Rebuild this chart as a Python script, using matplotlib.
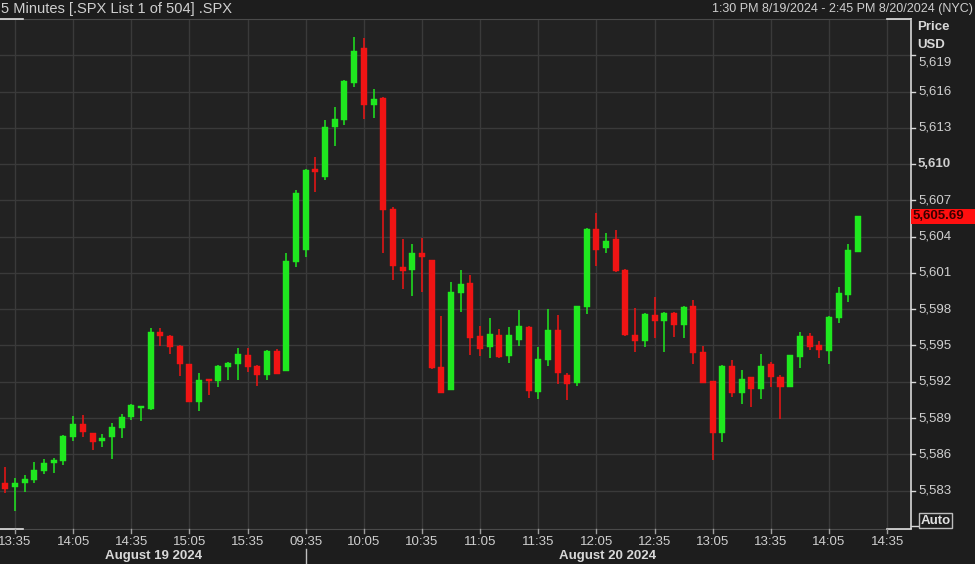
import matplotlib
matplotlib.use("Agg")
import matplotlib.pyplot as plt
from matplotlib.patches import Rectangle
from matplotlib.lines import Line2D

# ---------------- data ----------------
opens = [
    5583.65, 5583.27, 5583.60, 5583.87, 5584.64, 5585.25, 5585.45, 5587.41, 5588.51, 5587.74,
    5587.10, 5587.41, 5588.20, 5589.06, 5589.83, 5589.75, 5596.14, 5595.81, 5594.98, 5593.44,
    5590.35, 5592.20, 5592.06, 5593.24, 5593.44, 5594.21, 5593.33, 5592.56, 5594.54, 5592.91,
    5601.93, 5602.90, 5609.62, 5608.96, 5613.05, 5613.65, 5616.68, 5619.58, 5614.89, 5615.49,
    5606.29, 5601.52, 5601.24, 5602.62, 5602.07, 5593.24, 5591.32, 5599.32, 5600.14, 5595.78,
    5594.90, 5595.87, 5594.13, 5595.45, 5596.55, 5591.18, 5593.80, 5596.28, 5592.56, 5591.92,
    5598.21, 5604.63, 5603.10, 5603.78, 5601.24, 5595.87, 5595.40, 5597.52, 5597.05, 5597.71,
    5596.69, 5598.27, 5594.44, 5592.06, 5587.79, 5593.30, 5591.09, 5592.37, 5591.40, 5593.47,
    5592.37, 5591.59, 5594.07, 5595.81, 5595.04, 5594.57, 5597.25, 5599.17, 5602.76]
closes = [
    5583.13, 5583.65, 5583.96, 5584.70, 5585.30, 5585.53, 5587.51, 5588.51, 5587.82, 5587.04,
    5587.37, 5588.28, 5589.06, 5590.08, 5589.94, 5596.14, 5595.81, 5594.90, 5593.44, 5590.35,
    5592.14, 5592.06, 5593.33, 5593.58, 5594.27, 5593.24, 5592.56, 5594.54, 5592.64, 5602.01,
    5607.61, 5609.51, 5609.35, 5613.05, 5613.73, 5616.87, 5619.38, 5614.89, 5615.39, 5606.21,
    5601.61, 5601.16, 5602.62, 5602.34, 5593.11, 5591.09, 5599.45, 5600.06, 5595.64, 5594.71,
    5595.95, 5594.02, 5595.87, 5596.64, 5591.26, 5593.88, 5596.28, 5592.70, 5591.81, 5598.29,
    5604.63, 5602.90, 5603.67, 5601.14, 5595.87, 5595.40, 5597.60, 5597.05, 5597.71, 5596.69,
    5598.21, 5594.35, 5591.92, 5587.79, 5593.30, 5591.04, 5592.23, 5591.40, 5593.33, 5592.37,
    5591.59, 5594.21, 5595.81, 5594.85, 5594.63, 5597.38, 5599.37, 5602.90, 5605.69]
highs = [
    5584.97, 5584.01, 5584.29, 5585.39, 5585.61, 5585.72, 5587.60, 5589.17, 5589.25, 5587.80,
    5587.68, 5588.56, 5589.33, 5590.16, 5589.99, 5596.42, 5596.47, 5595.85, 5595.00, 5593.46,
    5592.70, 5592.22, 5593.36, 5593.66, 5594.82, 5594.82, 5593.36, 5594.60, 5594.71, 5602.65,
    5607.86, 5609.60, 5610.59, 5613.65, 5614.72, 5616.96, 5620.54, 5620.41, 5616.19, 5615.55,
    5606.48, 5603.78, 5603.37, 5603.89, 5602.10, 5597.44, 5600.27, 5601.24, 5600.83, 5596.64,
    5597.25, 5596.34, 5596.55, 5597.93, 5596.60, 5594.90, 5598.02, 5597.52, 5592.75, 5598.30,
    5604.70, 5605.98, 5604.28, 5604.55, 5601.30, 5598.07, 5597.65, 5598.98, 5597.75, 5597.75,
    5598.25, 5598.76, 5594.96, 5592.10, 5593.35, 5593.80, 5592.97, 5592.40, 5594.30, 5593.66,
    5592.56, 5594.25, 5596.14, 5596.06, 5595.40, 5597.45, 5599.86, 5603.39, 5605.72]
lows = [
    5582.82, 5581.33, 5582.91, 5583.60, 5584.37, 5584.48, 5585.11, 5587.10, 5587.41, 5586.35,
    5586.63, 5585.61, 5587.32, 5588.84, 5588.78, 5589.70, 5594.96, 5594.30, 5592.48, 5590.30,
    5589.61, 5590.90, 5591.59, 5592.14, 5592.14, 5592.78, 5591.65, 5592.14, 5592.60, 5592.85,
    5601.52, 5602.34, 5607.72, 5608.69, 5611.50, 5613.24, 5616.40, 5613.73, 5613.84, 5602.65,
    5600.42, 5599.65, 5599.09, 5599.45, 5593.05, 5591.05, 5591.30, 5597.74, 5594.21, 5594.13,
    5593.94, 5594.00, 5593.53, 5594.98, 5590.63, 5590.57, 5593.33, 5591.79, 5590.49, 5591.65,
    5597.60, 5601.61, 5602.62, 5601.10, 5595.80, 5594.44, 5594.85, 5595.59, 5594.49, 5595.68,
    5595.59, 5593.47, 5591.90, 5585.53, 5586.99, 5590.71, 5590.16, 5589.89, 5590.57, 5591.54,
    5588.92, 5591.55, 5593.11, 5594.63, 5593.94, 5593.47, 5596.88, 5598.62, 5602.70]

x_tick_labels = ["13:35", "14:05", "14:35", "15:05", "15:35", "09:35", "10:05", "10:35",
                 "11:05", "11:35", "12:05", "12:35", "13:05", "13:35", "14:05", "14:35"]
y_ticks = [5583, 5586, 5589, 5592, 5595, 5598, 5601, 5604, 5607, 5610, 5613, 5616, 5619]
last_price = 5605.69
date_labels = ["August 19 2024", "August 20 2024"]
title_left = "5 Minutes [.SPX List 1 of 504] .SPX"
title_right = "1:30 PM 8/19/2024 - 2:45 PM 8/20/2024 (NYC)"

# ---------------- style ----------------
W, H = 975, 564
BG = "#1d1d1d"
AXBG = "#222222"
GRID = "#3a3a3a"
TXT = "#cfcfcf"
GREEN = "#1fe81f"
RED = "#f01414"
FONT = ["Liberation Sans", "DejaVu Sans"]
plt.rcParams["font.family"] = FONT

fig = plt.figure(figsize=(W / 100, H / 100), dpi=100, facecolor=BG)

# axes placement in pixels
ax_l, ax_r, ax_t, ax_b = 0, 911, 19, 529
ax = fig.add_axes([ax_l / W, 1 - ax_b / H, (ax_r - ax_l) / W, (ax_b - ax_t) / H])
ax.set_facecolor(AXBG)

# pixel <-> data mapping (from reference)
x0_px, dx_px = 5.3, 9.69
ax.set_xlim((ax_l - x0_px) / dx_px, (ax_r - x0_px) / dx_px)
ax.set_ylim(5579.82, 5622.00)

n = len(opens)
xs = list(range(n))
body_w = 0.62
for i in xs:
    o, c, h, l = opens[i], closes[i], highs[i], lows[i]
    col = GREEN if c >= o else RED
    ax.vlines(i, l, h, color=col, linewidth=1.1, zorder=3)
    bot = min(o, c)
    ht = max(abs(c - o), 0.15)
    ax.bar(i, ht, bottom=bot, width=body_w, color=col, edgecolor=col, linewidth=0.3, zorder=4)

# grid
x_tick_pos = [1 + 6 * k for k in range(len(x_tick_labels))]
for xp in x_tick_pos:
    ax.axvline(xp, color=GRID, linewidth=1, zorder=1)
for yp in y_ticks:
    ax.axhline(yp, color=GRID, linewidth=1, zorder=1)

ax.set_xticks([])
ax.set_yticks([])
for s in ["left"]:
    ax.spines[s].set_visible(False)
ax.spines["top"].set_color("#4a4a4a")
ax.spines["bottom"].set_color("#4a4a4a")
ax.spines["right"].set_color("#d8d8d8")
ax.spines["right"].set_linewidth(1.2)

def fx(px):
    return px / W

def fy(py):
    return 1 - py / H

# white corner markers
for (xa, xb, yy) in [(0, 23, 19), (887, 911, 19), (0, 23, 529), (887, 911, 529)]:
    fig.add_artist(Line2D([fx(xa), fx(xb)], [fy(yy), fy(yy)], color="#e0e0e0", linewidth=1.2))

# header
fig.text(fx(1), fy(9), title_left, color=TXT, fontsize=10.5, va="center", ha="left")
fig.text(fx(973), fy(9), title_right, color=TXT, fontsize=9, va="center", ha="right")

# y tick labels
for yp in y_ticks:
    ypx = ax.transData.transform((0, yp))[1]
    ypix = H - ypx
    lab_pix = ypix + 7 if yp == 5619 else ypix
    fig.add_artist(Line2D([fx(911), fx(915)], [fy(ypix), fy(ypix)], color="#d8d8d8", linewidth=1))
    fig.text(fx(918), fy(lab_pix), f"{yp:,}", color=TXT, fontsize=9.5,
             va="center", ha="left", fontweight="bold" if yp == 5610 else "normal")

fig.text(fx(917), fy(27), "Price", color="#d8d8d8", fontsize=9.5, fontweight="bold", va="center")
fig.text(fx(917), fy(45), "USD", color="#d8d8d8", fontsize=9.5, fontweight="bold", va="center")

# last price tag
lp_pix = H - ax.transData.transform((0, last_price))[1]
fig.patches.append(Rectangle((fx(911), fy(lp_pix + 7.5)), fx(975) - fx(911), 15 / H,
                             transform=fig.transFigure, facecolor="#ff0f0f", edgecolor="none"))
fig.text(fx(913), fy(lp_pix), f"{last_price:,.2f}", color="#3a0000", fontsize=9.5,
         fontweight="bold", va="center", ha="left")

# Auto box
fig.add_artist(Line2D([fx(911), fx(919)], [fy(526), fy(526)], color="#d8d8d8", linewidth=1))
fig.text(fx(935.5), fy(520.5), "Auto", color="#e0e0e0", fontsize=9.5, fontweight="bold",
         va="center", ha="center",
         bbox=dict(boxstyle="square,pad=0.12", facecolor=BG, edgecolor="#bdbdbd", linewidth=1))

# x tick labels
for xp, lab in zip(x_tick_pos, x_tick_labels):
    xpix = ax.transData.transform((xp, 0))[0]
    fig.add_artist(Line2D([fx(xpix), fx(xpix)], [fy(529), fy(533)], color="#a0a0a0", linewidth=1))
    fig.text(fx(xpix), fy(542), lab, color=TXT, fontsize=9.5, va="center", ha="center")

# day separator and date labels
sep_pix = ax.transData.transform((31, 0))[0]
fig.add_artist(Line2D([fx(sep_pix), fx(sep_pix)], [fy(549), fy(564)], color="#c0c0c0", linewidth=1))
d1 = ax.transData.transform((15.3, 0))[0]
d2 = ax.transData.transform((62.2, 0))[0]
fig.text(fx(d1), fy(556), date_labels[0], color="#d8d8d8", fontsize=9.5, fontweight="bold",
         va="center", ha="center")
fig.text(fx(d2), fy(556), date_labels[1], color="#d8d8d8", fontsize=9.5, fontweight="bold",
         va="center", ha="center")

fig.savefig("out.png", dpi=100, facecolor=BG)
